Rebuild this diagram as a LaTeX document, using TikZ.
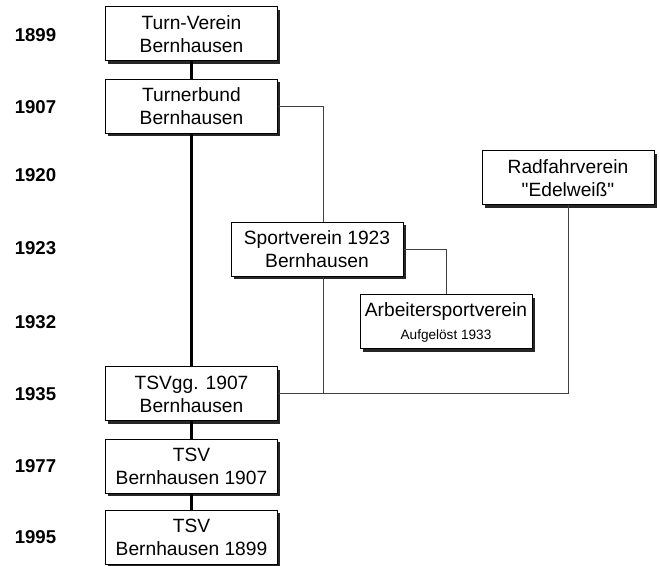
\documentclass[tikz,border=0pt]{standalone}
\usepackage{fontspec}
\setmainfont{Liberation Sans}
\usepackage{xcolor}
\usepackage{tikz}
\usetikzlibrary{shadows}

\begin{document}
\begin{tikzpicture}[x=0.5pt,y=-0.5pt,
    club/.style={draw=black,line width=0.5pt,fill=white,align=center,
        minimum width=86pt,minimum height=27pt,inner sep=0pt,
        font=\fontsize{9.6}{11.5}\selectfont,
        drop shadow={shadow xshift=1.3pt,shadow yshift=-1.3pt,fill=black!85,opacity=1}},
    yearlbl/.style={font=\fontsize{9.3}{10}\selectfont\bfseries},
    mainline/.style={line width=1.1pt,black},
    sideline/.style={line width=0.5pt,black!75}]
    \useasboundingbox (0,0) rectangle (660,566);
    \foreach \yr/\y in {1899/35,1907/107,1920/175,1923/248,1932/322,1935/394,1977/466,1995/537} {
        \node[yearlbl] (y\yr) at (35.5,\y) {\yr};
    }
    \node[club] (turnverein) at (191.5,34) {Turn-Verein\\Bernhausen};
    \node[club] (turnerbund) at (191.5,106.5) {Turnerbund\\Bernhausen};
    \node[club] (radfahr) at (568,178) {Radfahrverein\\\textquotedbl Edelwei\ss\textquotedbl};
    \node[club] (sport) at (317,249.5) {Sportverein 1923\\Bernhausen};
    \node[club] (arbeiter) at (446,322) {Arbeitersportverein\\{\fontsize{6.8}{9}\selectfont Aufgel\"ost 1933}};
    \node[club] (tsvgg) at (191.5,394) {TSVgg. 1907\\Bernhausen};
    \node[club] (tsv1907) at (191.5,466.5) {TSV\\Bernhausen 1907};
    \node[club] (tsv1899) at (191.5,537.5) {TSV\\Bernhausen 1899};

    \draw[mainline] (turnverein.south) -- (turnerbund.north);
    \draw[mainline] (turnerbund.south) -- (tsvgg.north);
    \draw[mainline] (tsvgg.south) -- (tsv1907.north);
    \draw[mainline] (tsv1907.south) -- (tsv1899.north);

    \draw[sideline] (turnerbund.east) -| ([xshift=3pt]sport.north);
    \draw[sideline] ([xshift=3pt]sport.south) |- (tsvgg.east);
    \draw[sideline] (sport.east) -| (arbeiter.north);
    \draw[sideline] (radfahr.south) |- (tsvgg.east);
\end{tikzpicture}
\end{document}
